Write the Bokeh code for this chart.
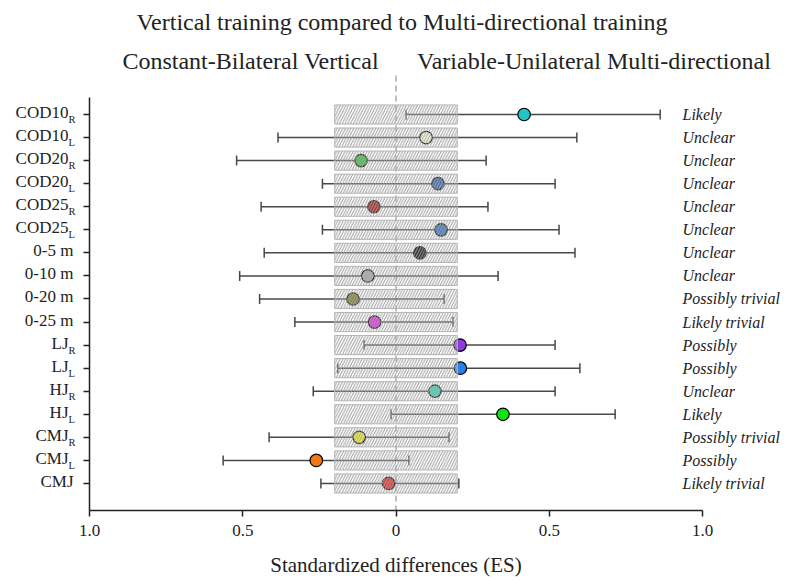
import numpy as np
from bokeh.plotting import figure
from bokeh.models import (Range1d, FixedTicker, Label, ColumnDataSource,
                          CustomJSTickFormatter)
from bokeh.core.properties import value
from bokeh.embed import file_html
from bokeh.resources import INLINE

# ---- data ----
labels = ["COD10", "COD10", "COD20", "COD20", "COD25", "COD25", "0-5 m", "0-10 m",
          "0-20 m", "0-25 m", "LJ", "LJ", "HJ", "HJ", "CMJ", "CMJ", "CMJ"]
subs = ["R", "L", "R", "L", "R", "L", "", "", "", "", "R", "L", "R", "L", "R", "L", ""]
es = [0.418, 0.098, -0.114, 0.137, -0.072, 0.147, 0.078, -0.092, -0.14, -0.07,
      0.209, 0.21, 0.127, 0.349, -0.12, -0.26, -0.024]
lower = [0.033, -0.385, -0.52, -0.24, -0.44, -0.24, -0.43, -0.51, -0.445, -0.33,
         -0.104, -0.19, -0.27, -0.016, -0.414, -0.564, -0.245]
upper = [0.862, 0.59, 0.294, 0.519, 0.30, 0.532, 0.584, 0.333, 0.157, 0.186,
         0.519, 0.60, 0.519, 0.715, 0.173, 0.042, 0.205]
outcomes = ["Likely", "Unclear", "Unclear", "Unclear", "Unclear", "Unclear", "Unclear",
            "Unclear", "Possibly trivial", "Likely trivial", "Possibly", "Possibly",
            "Unclear", "Likely", "Possibly trivial", "Possibly", "Likely trivial"]
colors = ["#1fc6c6", "#fdfbd8", "#2fbf2f", "#2a62aa", "#a01010", "#2d6cc0", "#121212",
          "#a8a8a8", "#7c7a24", "#e620e6", "#8c3cdc", "#2a80e6", "#30d8b6", "#10e410",
          "#f2f01c", "#f27810", "#e61c1c"]
trivial = 0.2
x_ticks = [-1.0, -0.5, 0.0, 0.5, 1.0]
title = "Vertical training compared to Multi-directional training"
left_head = "Constant-Bilateral Vertical"
right_head = "Variable-Unilateral Multi-directional"
x_label = "Standardized differences (ES)"

SERIF = "Liberation Serif"
INK = "#222222"
n = len(labels)
y = list(range(n))

# layout constants (pixels -> data)
PX_PER_X = 306.5
X_LO = -1 - 89 / PX_PER_X
X_HI = 1 + 85 / PX_PER_X
ROW_PX = 23.06
Y_TOP = -114 / ROW_PX
Y_BOT = (580 - 114) / ROW_PX
Y_AXIS = (510 - 114) / ROW_PX

src = ColumnDataSource(dict(
    y=y, label=labels, es=es, lower=lower, upper=upper,
    outcome=outcomes, color=colors,
    lx=[-21 if s else -16 for s in subs],
    left=[-trivial] * n, right=[trivial] * n,
    top=[i - 0.415 for i in y], bottom=[i + 0.415 for i in y],
))
sub_rows = [i for i in y if subs[i]]
sub_src = ColumnDataSource(dict(y=sub_rows, sub=[subs[i] for i in sub_rows]))

p = figure(width=787, height=580, output_backend="svg", toolbar_location=None,
           x_range=Range1d(X_LO, X_HI), y_range=Range1d(Y_BOT, Y_TOP),
           min_border_left=0, min_border_right=0, min_border_top=0,
           min_border_bottom=0, title=None)
p.outline_line_color = None
p.xgrid.visible = False
p.ygrid.visible = False

# x axis fixed at the bottom of the rows
p.xaxis.fixed_location = Y_AXIS
p.xaxis.ticker = FixedTicker(ticks=x_ticks)
p.xaxis.formatter = CustomJSTickFormatter(
    code="return tick == 0 ? '0' : Math.abs(tick).toFixed(1);")
p.xaxis.bounds = (-1, 1)
p.xaxis.major_tick_out = 6
p.xaxis.major_tick_in = 0
p.xaxis.minor_tick_line_color = None
p.xaxis.axis_line_color = INK
p.xaxis.axis_line_width = 1.5
p.xaxis.major_tick_line_color = INK
p.xaxis.major_tick_line_width = 1.5
p.xaxis.major_label_text_font = SERIF
p.xaxis.major_label_text_font_size = "17px"
p.xaxis.major_label_text_color = INK
p.xaxis.major_label_standoff = 8
p.xaxis.axis_label = x_label
p.xaxis.axis_label_text_font = SERIF
p.xaxis.axis_label_text_font_size = "21px"
p.xaxis.axis_label_text_font_style = "normal"
p.xaxis.axis_label_text_color = INK
p.xaxis.axis_label_standoff = 14

# y axis fixed at x = -1 inside the plot area (labels drawn as text below)
p.yaxis.fixed_location = -1
p.yaxis.ticker = FixedTicker(ticks=y)
p.yaxis.major_label_overrides = {i: "" for i in y}
p.yaxis.major_label_standoff = 0
p.yaxis.major_tick_out = 6
p.yaxis.major_tick_in = 0
p.yaxis.minor_tick_line_color = None
p.yaxis.axis_line_color = INK
p.yaxis.axis_line_width = 1.5
p.yaxis.major_tick_line_color = INK
p.yaxis.major_tick_line_width = 1.5
p.yaxis.bounds = (-0.74, Y_AXIS)

# zero line (dashed)
p.segment(x0=[0], y0=[-1.69], x1=[0], y1=[Y_AXIS], line_color="#aaaaaa",
          line_dash="6 4", line_width=1.5)

# CI lines and caps
p.segment(x0="lower", y0="y", x1="upper", y1="y", source=src,
          line_color="#484848", line_width=1.5)
for col in ("lower", "upper"):
    p.scatter(x=col, y="y", source=src, marker="dash", angle=np.pi / 2, size=10,
              line_color="#484848", line_width=1.5)

# points
p.scatter(x="es", y="y", source=src, size=12.5, fill_color="color",
          line_color="black", line_width=1.2)

# trivial zone boxes (drawn on top, hatched)
p.quad(left="left", right="right", top="top", bottom="bottom", source=src,
       fill_color="white", fill_alpha=0.12, line_color="#b4b4b4", line_width=1,
       hatch_pattern="/", hatch_color="#a0a0a0", hatch_scale=5.5, hatch_weight=1)

# left labels
p.text(x=-1, y="y", text="label", x_offset="lx", y_offset=-2, source=src,
       text_align="right", text_baseline="middle",
       text_font=value(SERIF), text_font_size="17px", text_color=INK)
p.text(x=-1, y="y", text="sub", x_offset=-21, y_offset=5, source=sub_src,
       text_align="left", text_baseline="middle",
       text_font=value(SERIF), text_font_size="10.5px", text_color=INK)

# right labels
p.text(x=1, y="y", text="outcome", x_offset=-20, source=src,
       text_align="left", text_baseline="middle",
       text_font=value(SERIF), text_font_style="italic",
       text_font_size="16px", text_color=INK)

# headings
p.add_layout(Label(x=0, y=-3.99, x_offset=6, text=title,
                   text_align="center", text_baseline="alphabetic", text_font=SERIF,
                   text_font_size="24px", text_color=INK))
p.add_layout(Label(x=0, y=-2.34, x_offset=-17, text=left_head,
                   text_align="right", text_baseline="alphabetic", text_font=SERIF,
                   text_font_size="24px", text_color=INK))
p.add_layout(Label(x=0, y=-2.34, x_offset=21, text=right_head,
                   text_align="left", text_baseline="alphabetic", text_font=SERIF,
                   text_font_size="24px", text_color=INK))

open("out.html", "w").write(file_html(p, INLINE))
